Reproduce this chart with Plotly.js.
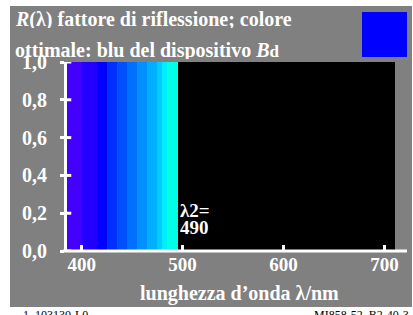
<!DOCTYPE html>
<html>
<head>
<meta charset="utf-8">
<script src="https://cdn.plot.ly/plotly-3.0.1.min.js"></script>
<style>html,body{margin:0;padding:0;background:#fff;}#chart{width:413px;height:315px;}</style>
</head>
<body>
<div id="chart"></div>
<script>
// Data: reflectance stripes (wavelength band edges in nm), R = 1 inside band
const bandStart = [380, 400, 415, 425, 435, 445, 455, 465, 475, 480, 485];
const bandEnd   = [400, 415, 425, 435, 445, 455, 465, 475, 480, 485, 495];
const reflectance = [1, 1, 1, 1, 1, 1, 1, 1, 1, 1, 1];
const bandColors = ['#4400ff', '#2200ff', '#0000ff', '#0030ff', '#0050ff', '#0070ff',
                    '#0090ff', '#00b0ff', '#00ccff', '#00eeff', '#00ffe4'];
const xTicks = [400, 500, 600, 700];
const yTicks = [0, 0.2, 0.4, 0.6, 0.8, 1.0];
const lambda2 = 490;

const FONT = 'Liberation Serif, Times New Roman, serif';
const centers = bandStart.map((s, i) => (s + bandEnd[i]) / 2);
const widths = bandStart.map((s, i) => bandEnd[i] - s);

const trace = {
  type: 'bar', x: centers, y: reflectance, width: widths, base: 0,
  marker: {color: bandColors, line: {width: 0}}, hoverinfo: 'skip'
};

const shapes = [
  {type: 'rect', xref: 'paper', yref: 'paper', x0: -0.1738, x1: 1.0518, y0: -0.2963, y1: 1.2963,
   fillcolor: '#808080', line: {width: 0}, layer: 'below'},
  {type: 'rect', xref: 'paper', yref: 'paper', x0: 0, x1: 1, y0: 0, y1: 1,
   fillcolor: '#000000', line: {width: 0}, layer: 'below'},
  {type: 'rect', xref: 'paper', yref: 'paper', x0: 0.8994, x1: 1.0366, y0: 1.0265, y1: 1.2646,
   fillcolor: '#0000ff', line: {width: 0}, layer: 'above'},
  {type: 'line', xref: 'paper', yref: 'paper', x0: -0.0122, x1: 1.0366, y0: 0, y1: 0,
   line: {color: '#ffffff', width: 3}, layer: 'above'}
];
yTicks.forEach(v => shapes.push({type: 'line', xref: 'paper', yref: 'y', x0: 0, x1: 0.013, y0: v, y1: v,
  line: {color: '#ffffff', width: 3}, layer: 'above'}));

const wfont = (s) => ({family: FONT, size: s, color: '#ffffff', weight: 'bold'});
const annotations = [
  {xref: 'paper', yref: 'paper', x: -0.1645, y: 1.2258, xanchor: 'left', yanchor: 'middle', showarrow: false,
   height: 18, text: '<i>R</i>(λ) fattore di riflessione; colore', font: wfont(20)},
  {xref: 'paper', yref: 'paper', x: -0.1645, y: 1.066, xanchor: 'left', yanchor: 'middle', showarrow: false,
   height: 18, text: 'ottimale: blu del dispositivo <i>B</i><span style="font-size:17px">d</span>', font: wfont(20)},
  {xref: 'x', yref: 'y', x: bandEnd[bandEnd.length - 1], y: 0.217, xanchor: 'left', yanchor: 'middle', showarrow: false,
   height: 14, text: 'λ2=', font: wfont(19)},
  {xref: 'x', yref: 'y', x: bandEnd[bandEnd.length - 1], y: 0.125, xanchor: 'left', yanchor: 'middle', showarrow: false,
   height: 14, text: String(lambda2), font: wfont(19)},
  {xref: 'paper', yref: 'paper', x: 0.525, y: -0.2226, xanchor: 'center', yanchor: 'middle', showarrow: false,
   text: 'lunghezza d’onda λ/nm', font: wfont(20)},
  {xref: 'paper', yref: 'paper', x: -0.153, y: -0.292, xanchor: 'left', yanchor: 'top', showarrow: false,
   text: '-1, 103130-L0', font: {family: FONT, size: 12, color: '#000000'}},
  {xref: 'paper', yref: 'paper', x: 1.05, y: -0.292, xanchor: 'right', yanchor: 'top', showarrow: false,
   text: 'MI858-52, B2-40-3', font: {family: FONT, size: 12, color: '#000000'}}
];

const layout = {
  width: 413, height: 315,
  margin: {l: 67, r: 18, t: 62, b: 64, pad: 0},
  paper_bgcolor: '#ffffff', plot_bgcolor: 'rgba(0,0,0,0)',
  separators: ',.',
  showlegend: false, bargap: 0,
  xaxis: {range: [385.5, 710.5], tickvals: xTicks, ticks: 'inside', ticklen: 6, tickwidth: 3, tickcolor: '#ffffff',
          showline: false, showgrid: false, zeroline: false,
          tickfont: wfont(19)},
  yaxis: {range: [0, 1], tickvals: yTicks, tickformat: '.1f', ticks: 'outside', ticklen: 4, tickwidth: 3,
          tickcolor: '#ffffff', showline: true, linecolor: '#ffffff', linewidth: 3,
          showgrid: false, zeroline: false, ticklabelstandoff: 9,
          tickfont: wfont(20)},
  shapes: shapes, annotations: annotations
};

Plotly.newPlot('chart', [trace], layout, {staticPlot: true, displayModeBar: false});
</script>
</body>
</html>
